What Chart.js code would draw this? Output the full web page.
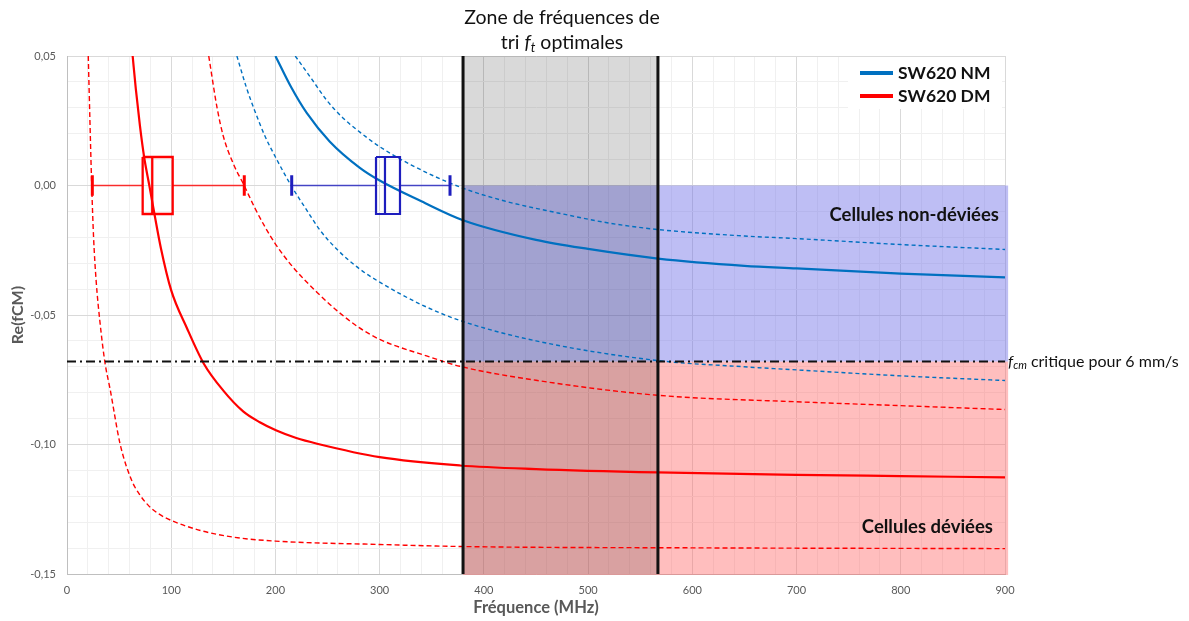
<!DOCTYPE html>
<html><head><meta charset="utf-8">
<script src="https://cdn.jsdelivr.net/npm/chart.js@4.4.1/dist/chart.umd.min.js"></script>
<style>html,body{margin:0;padding:0;background:#fff;}#wrap{width:1189px;height:621px;}</style>
</head><body><div id="wrap"><canvas id="c" width="1189" height="621"></canvas></div>
<script>
// ---------- data ----------
const xTickLabels = ['0','100','200','300','400','500','600','700','800','900'];
const yTickLabels = ['0,05','0,00','-0,05','-0,10','-0,15'];

const nmMeanFreq = [200,215,230,252,281,300,340,380,450,500,567,650,700,800,900];
const nmMeanVal  = [0.050,0.038,0.028,0.017,0.0068,0.0019,-0.0061,-0.0134,-0.021,-0.0245,-0.0282,-0.031,-0.032,-0.034,-0.0355];

const nmHighFreq = [219,235,249,265,281,300,330,377,420,470,520,567,650,700,800,900];
const nmHighVal  = [0.050,0.041,0.033,0.026,0.0206,0.015,0.008,-0.0006,-0.006,-0.0105,-0.0145,-0.017,-0.0195,-0.0205,-0.0228,-0.0247];

const nmLowFreq = [163,172,180,190,200,215,230,243,260,280,300,340,377,450,567,650,700,800,900];
const nmLowVal  = [0.050,0.038,0.029,0.019,0.011,0.0,-0.0095,-0.0174,-0.025,-0.032,-0.0373,-0.046,-0.0521,-0.060,-0.0676,-0.0700,-0.0712,-0.0735,-0.0753];

const dmMeanFreq = [63,66,70,74,79,84,90,100,115,131,150,169,185,201,220,240,300,377,450,567,700,800,900];
const dmMeanVal  = [0.050,0.0374,0.023,0.011,0.0,-0.0112,-0.024,-0.0405,-0.055,-0.0686,-0.0792,-0.0872,-0.0914,-0.0946,-0.0975,-0.0997,-0.1049,-0.1081,-0.1095,-0.1108,-0.1117,-0.1122,-0.1127];

const dmLowFreq = [20.4,22,23.7,25.5,28,31.7,36.5,41.3,50.9,62.1,70,78,88,100,128,160,200,300,380,600,900];
const dmLowVal  = [0.050,0.025,0.0,-0.020,-0.037,-0.053,-0.0686,-0.0785,-0.0997,-0.1139,-0.1195,-0.1235,-0.1268,-0.1293,-0.1332,-0.1358,-0.1373,-0.1386,-0.1394,-0.1399,-0.1402];

const dmHighFreq = [136,144,150,160,170,180,190,200,217,240,259,280,300,345,377,450,567,700,800,900];
const dmHighVal  = [0.050,0.030,0.019,0.008,0.0,-0.0085,-0.016,-0.0226,-0.0316,-0.0413,-0.0483,-0.0548,-0.0594,-0.0658,-0.0698,-0.0752,-0.081,-0.0835,-0.085,-0.0865];

// box plots: [min, Q1, median, Q3, max] of sorting frequencies (MHz)
const dmBox = [24.3, 72.6, 81.8, 101.4, 170.1];
const nmBox = [215.6, 296.5, 305.1, 319.5, 367.5];

// optimal sorting zone limits (MHz), threshold fCM, right edge of shaded regions
const zoneFreq = [380, 567];
const fcmCritical = -0.068;
const regionEndFreq = 903;

// ---------- helpers ----------
const BOX_H = 0.011, CAP_H = 0.004;
const pts = (xs, ys) => xs.map((x, i) => ({x, y: ys[i]}));
function boxPath(b) {
  const [mn, q1, md, q3, mx] = b;
  return [
    {x: q1, y: BOX_H}, {x: q3, y: BOX_H}, {x: q3, y: -BOX_H}, {x: q1, y: -BOX_H}, {x: q1, y: BOX_H}, {x: q1, y: null},
    {x: md, y: BOX_H}, {x: md, y: -BOX_H}
  ];
}
function whiskerPath(b) {
  return [{x: b[0], y: 0}, {x: b[1], y: 0}, {x: b[1], y: null}, {x: b[3], y: 0}, {x: b[4], y: 0}];
}
function capPath(b) {
  return [{x: b[0], y: CAP_H}, {x: b[0], y: -CAP_H}, {x: b[0], y: null}, {x: b[4], y: CAP_H}, {x: b[4], y: -CAP_H}];
}
const BLUE = '#0070c0', RED = '#ff0000', BOXBLUE = '#1e1ebe';
const FONT = 'Lato';
Chart.defaults.font.family = FONT;

const curve = (data, color, w, dash) => ({
  data, borderColor: color, borderWidth: w, borderDash: dash || [], pointRadius: 0,
  showLine: true, fill: false, cubicInterpolationMode: 'monotone', order: 2
});
const seg = (data, color, w) => ({data, borderColor: color, borderWidth: w, pointRadius: 0, showLine: true, spanGaps: false, tension: 0, order: 1});

const datasets = [
  curve(pts(nmMeanFreq, nmMeanVal), BLUE, 2.2),
  curve(pts(dmMeanFreq, dmMeanVal), RED, 2.2),
  curve(pts(nmHighFreq, nmHighVal), BLUE, 1.4, [4, 3]),
  curve(pts(nmLowFreq, nmLowVal), BLUE, 1.4, [4, 3]),
  curve(pts(dmHighFreq, dmHighVal), RED, 1.4, [5, 3]),
  curve(pts(dmLowFreq, dmLowVal), RED, 1.4, [5, 3]),
  seg(boxPath(dmBox), RED, 2.3),
  seg(whiskerPath(dmBox), 'rgba(255,0,0,0.8)', 1.5),
  seg(capPath(dmBox), RED, 3),
  seg(boxPath(nmBox), BOXBLUE, 2.2),
  seg(whiskerPath(nmBox), 'rgba(30,30,190,0.8)', 1.5),
  seg(capPath(nmBox), BOXBLUE, 3),
  {data: [{x: 0, y: fcmCritical}, {x: 900, y: fcmCritical}], borderColor: '#111', borderWidth: 2, borderDash: [9, 4, 2, 4], pointRadius: 0, showLine: true, clip: false, order: 0},
  {data: [{x: zoneFreq[0], y: 0.05}, {x: zoneFreq[0], y: -0.15}], borderColor: '#111', borderWidth: 3, pointRadius: 0, showLine: true, order: 0},
  {data: [{x: zoneFreq[1], y: 0.05}, {x: zoneFreq[1], y: -0.15}], borderColor: '#111', borderWidth: 3, pointRadius: 0, showLine: true, order: 0}
];

const regionsPlugin = {
  id: 'regions',
  beforeDatasetsDraw(chart) {
    const {ctx, scales: {x, y}, chartArea: ca} = chart;
    const px = v => x.getPixelForValue(v), py = v => y.getPixelForValue(v);
    ctx.save();
    ctx.fillStyle = 'rgba(110,110,230,0.45)';
    ctx.fillRect(px(zoneFreq[0]), py(0), px(regionEndFreq) - px(zoneFreq[0]), py(fcmCritical) - py(0));
    ctx.fillStyle = 'rgba(255,100,100,0.42)';
    ctx.fillRect(px(zoneFreq[0]), py(fcmCritical), px(regionEndFreq) - px(zoneFreq[0]), ca.bottom + 1 - py(fcmCritical));
    ctx.fillStyle = 'rgba(0,0,0,0.15)';
    ctx.fillRect(px(zoneFreq[0]), ca.top, px(zoneFreq[1]) - px(zoneFreq[0]), ca.bottom - ca.top);
    ctx.restore();
  },
  afterDraw(chart) {
    const {ctx, scales: {x, y}, chartArea: ca} = chart;
    const px = v => x.getPixelForValue(v), py = v => y.getPixelForValue(v);
    ctx.save();
    ctx.textBaseline = 'middle';
    // legend
    ctx.fillStyle = '#fff';
    ctx.fillRect(ca.right - 157, ca.top + 1, 154, 52);
    const leg = [['SW620 NM', BLUE], ['SW620 DM', RED]];
    leg.forEach(([t, c], i) => {
      const ly = ca.top + 17 + i * 23;
      ctx.strokeStyle = c; ctx.lineWidth = 4;
      ctx.beginPath(); ctx.moveTo(ca.right - 145, ly); ctx.lineTo(ca.right - 112, ly); ctx.stroke();
      ctx.fillStyle = '#111'; ctx.font = 'bold 17.5px ' + FONT; ctx.textAlign = 'left';
      ctx.fillText(t, ca.right - 107, ly);
    });
    // zone title
    const cx = (px(zoneFreq[0]) + px(zoneFreq[1])) / 2 + 1.5;
    ctx.fillStyle = '#111';
    ctx.font = '19.5px ' + FONT; ctx.textAlign = 'center';
    ctx.fillText('Zone de fréquences de', cx, 18);
    const parts = [['tri ', '19.5px ' + FONT, 0], ['f', 'italic 19.5px ' + FONT, 0], ['t', 'italic 13px ' + FONT, 5], [' optimales', '19.5px ' + FONT, 0]];
    let tw = 0;
    parts.forEach(p => { ctx.font = p[1]; tw += ctx.measureText(p[0]).width; });
    let tx = cx - tw / 2; ctx.textAlign = 'left';
    parts.forEach(p => { ctx.font = p[1]; ctx.fillText(p[0], tx, 43 + p[2]); tx += ctx.measureText(p[0]).width; });
    // critical fcm label
    const cy = py(fcmCritical);
    const parts2 = [['f', 'italic 16px ' + FONT, 0], ['cm', 'italic 11px ' + FONT, 4], [' critique pour 6 mm/s', '16px ' + FONT, 0]];
    tx = ca.right + 3;
    parts2.forEach(p => { ctx.font = p[1]; ctx.fillText(p[0], tx, cy + p[2]); tx += ctx.measureText(p[0]).width; });
    // region labels
    ctx.font = 'bold 18.5px ' + FONT; ctx.textAlign = 'right';
    ctx.fillText('Cellules non-déviées', ca.right - 6, py(-0.0115));
    ctx.fillText('Cellules déviées', ca.right - 12, py(-0.132));
    ctx.restore();
  }
};

const gridCol = (major) => major ? '#d9d9d9' : '#f0f0f0';

new Chart(document.getElementById('c'), {
  type: 'scatter',
  data: {datasets},
  plugins: [regionsPlugin],
  options: {
    responsive: false, animation: false, devicePixelRatio: 1,
    layout: {padding: {left: 0, top: 56, right: 184, bottom: 0}},
    plugins: {legend: {display: false}, tooltip: {enabled: false}},
    scales: {
      x: {
        type: 'linear', min: 0, max: 900,
        afterFit(s) { s.height = 47; },
        ticks: {stepSize: 20, autoSkip: false, maxRotation: 0, padding: 10, color: '#595959', font: {size: 11},
          callback: v => { const r = Math.round(v); return r % 100 === 0 ? xTickLabels[r / 100] : ''; }},
        grid: {drawTicks: false, color: c => gridCol(Math.round(c.tick.value) % 100 === 0), lineWidth: 1},
        border: {color: '#bfbfbf', width: 1},
        title: {display: true, text: 'Fréquence (MHz)', color: '#595959', font: {size: 16.5, weight: 'bold'}, padding: {top: 0, bottom: 3}}
      },
      y: {
        type: 'linear', min: -0.15, max: 0.05,
        afterFit(s) { s.width = 67; },
        ticks: {stepSize: 0.01, autoSkip: false, padding: 11, color: '#595959', font: {size: 11},
          callback: v => { const r = Math.round(v * 100); return r % 5 === 0 ? yTickLabels[(5 - r) / 5] : ''; }},
        grid: {drawTicks: false, color: c => gridCol(Math.round(c.tick.value * 100) % 5 === 0), lineWidth: 1},
        border: {color: '#bfbfbf', width: 1},
        title: {display: true, text: 'Re(fCM)', color: '#595959', font: {size: 16, weight: 'bold'}, padding: {top: 8, bottom: 0}}
      }
    }
  }
});
</script></body></html>
